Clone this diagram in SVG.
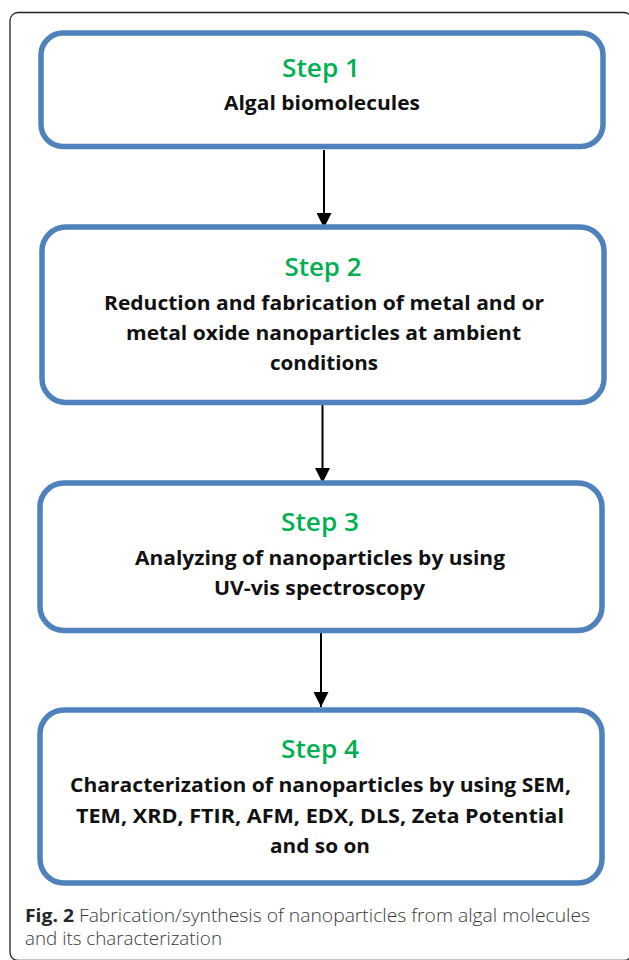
<svg xmlns="http://www.w3.org/2000/svg" width="629" height="960" viewBox="0 0 629 960">
<style>
.box{fill:#ffffff;stroke:#4F81BD;stroke-width:5.5}
.step{font-family:"Open Sans","Noto Sans",sans-serif;font-size:26px;font-weight:600;fill:#00B050;text-anchor:middle}
.body{font-family:"Open Sans","Noto Sans",sans-serif;font-size:19.5px;font-weight:bold;fill:#111111;text-anchor:middle}
.cap{font-family:"Open Sans","Noto Sans",sans-serif;font-size:17.5px;font-weight:300;fill:#3a3a3a}
.capb{font-weight:bold;fill:#262626}
.conn{stroke:#000000;stroke-width:2;fill:none;marker-end:url(#arr)}
</style>
<defs>
<marker id="arr" markerUnits="userSpaceOnUse" viewBox="0 0 15 15" markerWidth="15" markerHeight="15" refX="15" refY="7.5" orient="auto">
<path d="M0,0 L15,7.5 L0,15 Z" fill="#000000"/>
</marker>
</defs>
<rect x="0" y="0" width="629" height="960" fill="#ffffff"/>
<rect id="frame" x="10" y="12.5" width="622" height="948" rx="8" fill="none" stroke="#222222" stroke-width="1.3"/>
<g id="connectors">
<line class="conn" x1="324" y1="150" x2="324" y2="228"/>
<line class="conn" x1="322.5" y1="405" x2="322.5" y2="483"/>
<line class="conn" x1="321" y1="633" x2="321" y2="707"/>
</g>
<g id="step1">
<rect class="box" x="41" y="33" width="562" height="113.5" rx="22"/>
<text class="step" x="321" y="77" textLength="78" lengthAdjust="spacingAndGlyphs">Step 1</text>
<text class="body" x="322" y="110" textLength="196" lengthAdjust="spacingAndGlyphs">Algal biomolecules</text>
</g>
<g id="step2">
<rect class="box" x="42" y="227" width="562" height="175.5" rx="24"/>
<text class="step" x="323" y="276" textLength="77" lengthAdjust="spacingAndGlyphs">Step 2</text>
<text class="body" x="324" y="310" textLength="440" lengthAdjust="spacingAndGlyphs">Reduction and fabrication of metal and or</text>
<text class="body" x="323.5" y="340" textLength="395" lengthAdjust="spacingAndGlyphs">metal oxide nanoparticles at ambient</text>
<text class="body" x="324" y="370" textLength="108" lengthAdjust="spacingAndGlyphs">conditions</text>
</g>
<g id="step3">
<rect class="box" x="40" y="483" width="562" height="147.5" rx="24"/>
<text class="step" x="320" y="531" textLength="78" lengthAdjust="spacingAndGlyphs">Step 3</text>
<text class="body" x="320" y="565" textLength="370" lengthAdjust="spacingAndGlyphs">Analyzing of nanoparticles by using</text>
<text class="body" x="319.5" y="595" textLength="211" lengthAdjust="spacingAndGlyphs">UV-vis spectroscopy</text>
</g>
<g id="step4">
<rect class="box" x="40" y="710" width="562" height="173" rx="24"/>
<text class="step" x="320" y="758" textLength="78" lengthAdjust="spacingAndGlyphs">Step 4</text>
<text class="body" x="320.5" y="792" textLength="501" lengthAdjust="spacingAndGlyphs">Characterization of nanoparticles by using SEM,</text>
<text class="body" x="320" y="823" textLength="488" lengthAdjust="spacingAndGlyphs">TEM, XRD, FTIR, AFM, EDX, DLS, Zeta Potential</text>
<text class="body" x="320" y="853" textLength="100" lengthAdjust="spacingAndGlyphs">and so on</text>
</g>
<g id="caption">
<text class="cap" x="25" y="922" textLength="565" lengthAdjust="spacingAndGlyphs"><tspan class="capb">Fig. 2</tspan> Fabrication/synthesis of nanoparticles from algal molecules</text>
<text class="cap" x="25" y="945" textLength="197" lengthAdjust="spacingAndGlyphs">and its characterization</text>
</g>
</svg>
